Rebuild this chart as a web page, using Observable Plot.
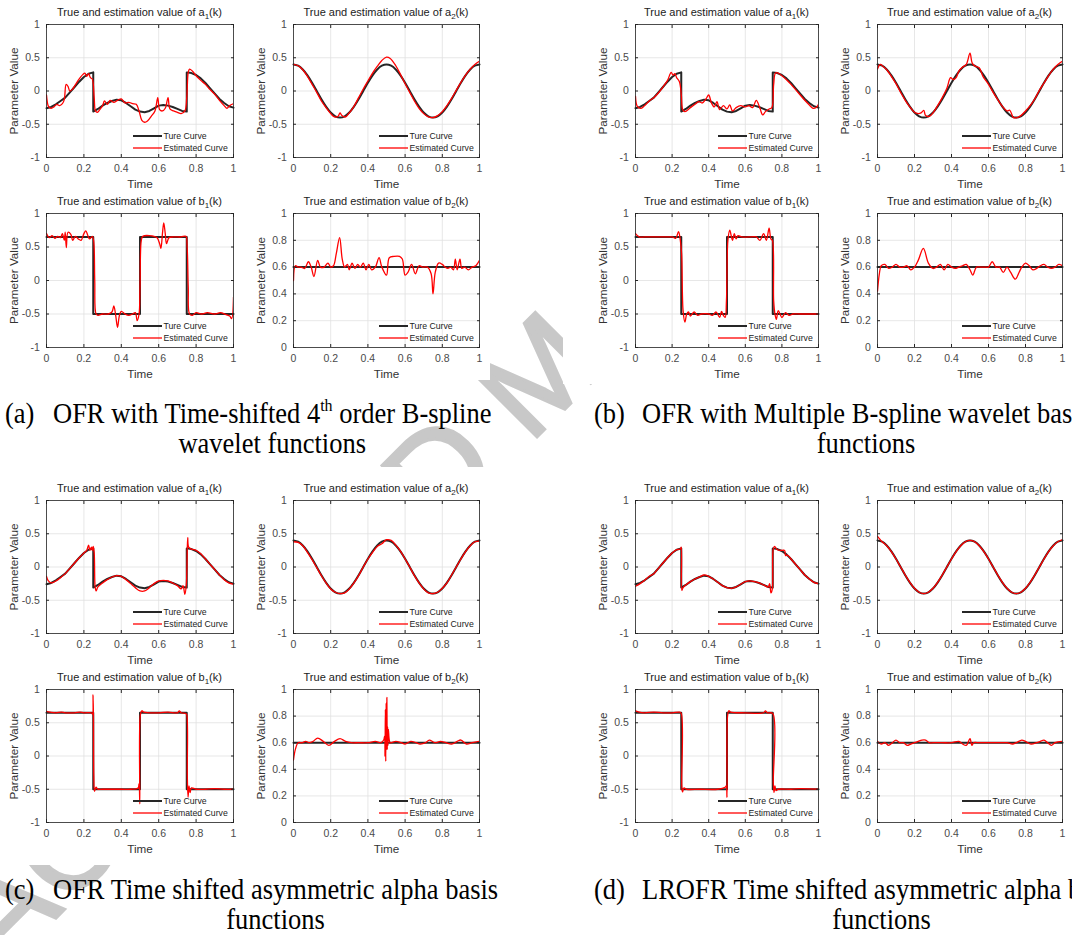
<!DOCTYPE html>
<html><head><meta charset="utf-8">
<script src="https://cdn.jsdelivr.net/npm/d3@7"></script>
<script src="https://cdn.jsdelivr.net/npm/@observablehq/plot@0.6"></script>
<style>
html,body{margin:0;padding:0;background:#fff;overflow:hidden;}
#page{position:relative;width:1072px;height:935px;overflow:hidden;background:#fff;}
.panel{position:absolute;}
.grp{position:absolute;background:#fff;}
</style></head><body><div id="page"></div>
<script>
// ---------------- DATA ----------------
const TIME_TICKS = [0, 0.2, 0.4, 0.6, 0.8, 1];
const Y_TICKS_A = [-1, -0.5, 0, 0.5, 1];
const Y_TICKS_B2 = [0, 0.2, 0.4, 0.6, 0.8, 1];
const TITLE_VARS = ["a", "a", "b", "b"];
const TITLE_SUBS = ["1", "2", "1", "2"];
const LEGEND_LABELS = ["Ture Curve", "Estimated Curve"];
const CAPTION_LABELS = ["(a)", "(b)", "(c)", "(d)"];
const CAPTION_LINE1 = [
  [["OFR with Time-shifted 4", ""], ["th", "sup"], [" order B-spline", ""]],
  [["OFR with Multiple B-spline wavelet basis", ""]],
  [["OFR Time shifted asymmetric alpha basis", ""]],
  [["LROFR Time shifted asymmetric alpha basis", ""]]
];
const CAPTION_LINE2 = ["wavelet functions", "functions", "functions", "functions"];
const WATERMARK = "ACCEPTED MANUSCRIPT";

// true curves (shared by all four methods)
const trueA1 = [[0,-0.26],[0.025,-0.24],[0.05,-0.2],[0.075,-0.15],[0.1,-0.1],[0.125,-0.02],[0.15,0.06],[0.175,0.14],[0.2,0.21],[0.225,0.26],[0.25,0.28],[0.25,-0.31],[0.275,-0.27],[0.3,-0.22],[0.325,-0.18],[0.35,-0.15],[0.375,-0.13],[0.4,-0.14],[0.425,-0.18],[0.45,-0.23],[0.475,-0.28],[0.5,-0.31],[0.525,-0.32],[0.55,-0.3],[0.575,-0.26],[0.6,-0.22],[0.625,-0.21],[0.65,-0.22],[0.675,-0.24],[0.7,-0.27],[0.725,-0.3],[0.75,-0.31],[0.75,0.28],[0.775,0.27],[0.8,0.24],[0.825,0.19],[0.85,0.12],[0.875,0.04],[0.9,-0.04],[0.925,-0.12],[0.95,-0.18],[0.975,-0.23],[1,-0.25]];
const trueA2 = [[0,0.4],[0.025,0.38],[0.05,0.324],[0.075,0.235],[0.1,0.124],[0.125,0],[0.15,-0.124],[0.175,-0.235],[0.2,-0.324],[0.225,-0.38],[0.25,-0.4],[0.275,-0.38],[0.3,-0.324],[0.325,-0.235],[0.35,-0.124],[0.375,0],[0.4,0.124],[0.425,0.235],[0.45,0.324],[0.475,0.38],[0.5,0.4],[0.525,0.38],[0.55,0.324],[0.575,0.235],[0.6,0.124],[0.625,0],[0.65,-0.124],[0.675,-0.235],[0.7,-0.324],[0.725,-0.38],[0.75,-0.4],[0.775,-0.38],[0.8,-0.324],[0.825,-0.235],[0.85,-0.124],[0.875,0],[0.9,0.124],[0.925,0.235],[0.95,0.324],[0.975,0.38],[1,0.4]];
const trueB1 = [[0,0.65],[0.25,0.65],[0.25,-0.5],[0.5,-0.5],[0.5,0.65],[0.75,0.65],[0.75,-0.5],[1,-0.5]];
const trueB2 = [[0,0.6],[1,0.6]];

// (a) OFR, time-shifted 4th order B-spline wavelets
const estA_a1 = [[0,-0.06],[0.012,-0.24],[0.025,-0.26],[0.04,-0.24],[0.055,-0.2],[0.07,-0.22],[0.085,-0.19],[0.095,-0.13],[0.105,0.1],[0.115,0.07],[0.125,0.0],[0.14,0.03],[0.16,0.12],[0.18,0.2],[0.195,0.25],[0.205,0.27],[0.215,0.22],[0.225,0.26],[0.235,0.2],[0.245,0.18],[0.255,-0.1],[0.262,-0.3],[0.272,-0.32],[0.285,-0.28],[0.3,-0.22],[0.31,-0.15],[0.325,-0.2],[0.34,-0.14],[0.36,-0.17],[0.38,-0.14],[0.4,-0.12],[0.42,-0.18],[0.44,-0.17],[0.46,-0.19],[0.48,-0.2],[0.495,-0.3],[0.51,-0.44],[0.525,-0.47],[0.54,-0.45],[0.56,-0.38],[0.58,-0.3],[0.595,-0.1],[0.605,-0.28],[0.62,-0.3],[0.635,-0.26],[0.65,-0.1],[0.66,-0.27],[0.68,-0.3],[0.7,-0.32],[0.72,-0.34],[0.74,-0.3],[0.75,-0.1],[0.758,0.28],[0.765,0.33],[0.78,0.3],[0.8,0.23],[0.825,0.16],[0.85,0.1],[0.875,0.02],[0.9,-0.05],[0.925,-0.14],[0.95,-0.22],[0.965,-0.26],[0.98,-0.22],[1,-0.19]];
const estA_a2 = [[0,0.4],[0.025,0.38],[0.05,0.32],[0.075,0.22],[0.1,0.1],[0.125,-0.02],[0.15,-0.15],[0.175,-0.25],[0.2,-0.34],[0.22,-0.39],[0.24,-0.38],[0.25,-0.33],[0.26,-0.37],[0.28,-0.39],[0.3,-0.33],[0.325,-0.23],[0.35,-0.1],[0.375,0.03],[0.4,0.15],[0.425,0.27],[0.45,0.37],[0.475,0.46],[0.5,0.51],[0.52,0.49],[0.55,0.38],[0.575,0.25],[0.6,0.11],[0.625,-0.02],[0.65,-0.15],[0.675,-0.26],[0.7,-0.34],[0.725,-0.39],[0.75,-0.4],[0.775,-0.37],[0.8,-0.31],[0.825,-0.22],[0.85,-0.11],[0.875,0.01],[0.9,0.13],[0.925,0.24],[0.95,0.33],[0.975,0.4],[1,0.45]];
const estA_b1 = [[0,0.7],[0.015,0.64],[0.03,0.67],[0.045,0.63],[0.06,0.66],[0.075,0.64],[0.085,0.7],[0.095,0.6],[0.1,0.72],[0.106,0.49],[0.115,0.72],[0.13,0.69],[0.14,0.6],[0.155,0.66],[0.17,0.62],[0.185,0.6],[0.2,0.7],[0.21,0.74],[0.22,0.68],[0.23,0.62],[0.245,0.66],[0.252,0.6],[0.258,0.0],[0.265,-0.5],[0.275,-0.52],[0.3,-0.5],[0.33,-0.5],[0.35,-0.47],[0.36,-0.38],[0.37,-0.52],[0.38,-0.7],[0.39,-0.52],[0.4,-0.46],[0.42,-0.5],[0.44,-0.52],[0.46,-0.5],[0.475,-0.48],[0.485,-0.6],[0.495,-0.5],[0.5,-0.1],[0.507,0.6],[0.515,0.66],[0.55,0.67],[0.59,0.64],[0.605,0.55],[0.612,0.48],[0.62,0.7],[0.627,0.86],[0.635,0.7],[0.642,0.55],[0.655,0.64],[0.68,0.65],[0.72,0.65],[0.745,0.66],[0.752,0.5],[0.758,-0.1],[0.765,-0.5],[0.78,-0.52],[0.8,-0.48],[0.83,-0.5],[0.86,-0.48],[0.9,-0.5],[0.93,-0.48],[0.96,-0.51],[0.98,-0.53],[0.99,-0.57],[1,-0.25]];
const estA_b2 = [[0,0.5],[0.01,0.61],[0.025,0.6],[0.04,0.6],[0.06,0.59],[0.08,0.64],[0.095,0.6],[0.11,0.53],[0.13,0.65],[0.145,0.6],[0.165,0.6],[0.185,0.63],[0.2,0.6],[0.215,0.61],[0.23,0.7],[0.248,0.82],[0.262,0.66],[0.275,0.6],[0.29,0.62],[0.3,0.58],[0.315,0.63],[0.33,0.59],[0.345,0.62],[0.36,0.6],[0.375,0.63],[0.39,0.58],[0.405,0.62],[0.42,0.58],[0.44,0.6],[0.46,0.67],[0.475,0.6],[0.5,0.54],[0.515,0.67],[0.54,0.68],[0.57,0.68],[0.585,0.66],[0.6,0.54],[0.615,0.56],[0.635,0.62],[0.655,0.55],[0.675,0.61],[0.695,0.6],[0.72,0.6],[0.74,0.55],[0.75,0.4],[0.762,0.56],[0.78,0.63],[0.8,0.62],[0.815,0.6],[0.83,0.59],[0.845,0.6],[0.86,0.58],[0.87,0.66],[0.88,0.58],[0.895,0.66],[0.905,0.59],[0.92,0.6],[0.94,0.58],[0.96,0.6],[0.98,0.61],[1,0.65]];

// (b) OFR, multiple B-spline wavelets
const estB_a1 = [[0,-0.08],[0.01,-0.23],[0.03,-0.26],[0.05,-0.22],[0.075,-0.15],[0.1,-0.1],[0.125,-0.03],[0.15,0.06],[0.175,0.16],[0.195,0.28],[0.205,0.24],[0.215,0.26],[0.225,0.2],[0.24,0.14],[0.25,-0.05],[0.258,-0.28],[0.27,-0.31],[0.3,-0.25],[0.325,-0.2],[0.345,-0.16],[0.365,-0.18],[0.385,-0.12],[0.4,-0.06],[0.415,-0.18],[0.43,-0.24],[0.445,-0.16],[0.46,-0.28],[0.48,-0.22],[0.5,-0.27],[0.515,-0.21],[0.53,-0.3],[0.55,-0.25],[0.575,-0.22],[0.6,-0.24],[0.62,-0.22],[0.64,-0.25],[0.66,-0.14],[0.68,-0.26],[0.695,-0.36],[0.71,-0.31],[0.73,-0.27],[0.745,-0.25],[0.755,0.1],[0.765,0.27],[0.78,0.27],[0.8,0.23],[0.825,0.17],[0.85,0.1],[0.875,0.02],[0.9,-0.06],[0.925,-0.14],[0.95,-0.21],[0.97,-0.26],[0.99,-0.24],[1,-0.2]];
const estB_a2 = [[0,0.33],[0.015,0.4],[0.03,0.37],[0.05,0.32],[0.075,0.22],[0.1,0.11],[0.125,-0.02],[0.15,-0.14],[0.175,-0.24],[0.2,-0.32],[0.22,-0.34],[0.235,-0.33],[0.25,-0.29],[0.26,-0.37],[0.28,-0.38],[0.3,-0.33],[0.325,-0.22],[0.35,-0.1],[0.375,0.04],[0.395,0.2],[0.41,0.17],[0.425,0.2],[0.44,0.3],[0.46,0.36],[0.48,0.4],[0.5,0.57],[0.512,0.42],[0.53,0.37],[0.55,0.35],[0.57,0.22],[0.6,0.1],[0.625,-0.02],[0.65,-0.13],[0.675,-0.23],[0.7,-0.3],[0.715,-0.29],[0.735,-0.4],[0.755,-0.4],[0.775,-0.37],[0.8,-0.3],[0.825,-0.22],[0.85,-0.12],[0.875,0.01],[0.9,0.12],[0.925,0.23],[0.95,0.33],[0.975,0.4],[1,0.45]];
const estB_b1 = [[0,0.7],[0.02,0.65],[0.05,0.65],[0.1,0.65],[0.15,0.65],[0.2,0.65],[0.22,0.63],[0.235,0.73],[0.245,0.6],[0.252,0.4],[0.26,-0.45],[0.27,-0.62],[0.28,-0.5],[0.29,-0.47],[0.3,-0.53],[0.32,-0.47],[0.34,-0.52],[0.36,-0.5],[0.4,-0.5],[0.42,-0.52],[0.44,-0.47],[0.46,-0.55],[0.47,-0.46],[0.48,-0.52],[0.49,-0.55],[0.497,-0.3],[0.505,0.6],[0.515,0.75],[0.53,0.6],[0.54,0.7],[0.55,0.62],[0.56,0.67],[0.58,0.65],[0.62,0.65],[0.66,0.65],[0.68,0.6],[0.7,0.7],[0.715,0.6],[0.73,0.78],[0.74,0.62],[0.748,0.6],[0.755,-0.3],[0.762,-0.5],[0.77,-0.58],[0.78,-0.45],[0.8,-0.55],[0.82,-0.48],[0.84,-0.52],[0.86,-0.5],[0.9,-0.5],[0.95,-0.5],[1,-0.5]];
const estB_b2 = [[0,0.42],[0.01,0.55],[0.02,0.61],[0.04,0.62],[0.06,0.59],[0.08,0.6],[0.1,0.62],[0.12,0.6],[0.14,0.6],[0.16,0.61],[0.18,0.58],[0.2,0.6],[0.22,0.65],[0.248,0.74],[0.275,0.63],[0.3,0.59],[0.32,0.6],[0.34,0.62],[0.36,0.58],[0.38,0.62],[0.4,0.6],[0.42,0.59],[0.44,0.6],[0.46,0.61],[0.48,0.62],[0.5,0.58],[0.515,0.54],[0.535,0.6],[0.56,0.6],[0.58,0.6],[0.6,0.6],[0.62,0.64],[0.64,0.6],[0.66,0.6],[0.68,0.56],[0.7,0.6],[0.72,0.56],[0.745,0.51],[0.765,0.56],[0.78,0.6],[0.8,0.63],[0.82,0.61],[0.84,0.58],[0.86,0.59],[0.88,0.61],[0.9,0.62],[0.92,0.6],[0.94,0.59],[0.96,0.6],[0.98,0.62],[1,0.61]];

// (c) OFR, time-shifted asymmetric alpha basis
const estC_a1 = [[0,-0.14],[0.01,-0.21],[0.025,-0.24],[0.05,-0.21],[0.075,-0.16],[0.1,-0.1],[0.125,-0.02],[0.15,0.06],[0.175,0.14],[0.2,0.21],[0.215,0.25],[0.225,0.33],[0.232,0.25],[0.24,0.3],[0.245,0.25],[0.25,0.31],[0.255,0.22],[0.26,-0.3],[0.265,-0.36],[0.275,-0.3],[0.3,-0.24],[0.325,-0.19],[0.35,-0.15],[0.375,-0.13],[0.4,-0.14],[0.425,-0.19],[0.45,-0.25],[0.475,-0.31],[0.5,-0.36],[0.525,-0.36],[0.55,-0.31],[0.575,-0.25],[0.6,-0.21],[0.625,-0.2],[0.65,-0.21],[0.675,-0.24],[0.7,-0.28],[0.72,-0.33],[0.73,-0.28],[0.74,-0.41],[0.748,-0.25],[0.755,0.44],[0.76,0.3],[0.775,0.27],[0.8,0.25],[0.825,0.2],[0.85,0.12],[0.875,0.04],[0.9,-0.04],[0.925,-0.12],[0.95,-0.19],[0.975,-0.24],[1,-0.26]];
const estC_a2 = [[0,0.38],[0.025,0.37],[0.05,0.32],[0.075,0.22],[0.1,0.11],[0.125,-0.01],[0.15,-0.13],[0.175,-0.24],[0.2,-0.33],[0.225,-0.38],[0.25,-0.4],[0.275,-0.39],[0.3,-0.33],[0.325,-0.24],[0.35,-0.13],[0.375,0.0],[0.4,0.12],[0.425,0.22],[0.45,0.31],[0.475,0.35],[0.5,0.41],[0.525,0.4],[0.55,0.33],[0.575,0.24],[0.6,0.12],[0.625,0.0],[0.65,-0.13],[0.675,-0.24],[0.7,-0.33],[0.725,-0.39],[0.75,-0.4],[0.775,-0.38],[0.8,-0.32],[0.825,-0.24],[0.85,-0.12],[0.875,0.0],[0.9,0.12],[0.925,0.23],[0.95,0.32],[0.975,0.38],[1,0.39]];
const estC_b1 = [[0,0.67],[0.02,0.66],[0.05,0.65],[0.08,0.66],[0.1,0.65],[0.15,0.65],[0.18,0.66],[0.2,0.65],[0.24,0.65],[0.246,0.63],[0.249,0.92],[0.251,0.55],[0.253,-0.3],[0.257,-0.53],[0.265,-0.47],[0.275,-0.5],[0.3,-0.5],[0.35,-0.5],[0.4,-0.5],[0.45,-0.5],[0.49,-0.48],[0.495,-0.42],[0.499,-0.72],[0.502,0.62],[0.51,0.68],[0.52,0.66],[0.6,0.65],[0.65,0.66],[0.7,0.65],[0.71,0.68],[0.72,0.65],[0.745,0.64],[0.75,0.62],[0.753,-0.3],[0.757,-0.62],[0.762,-0.45],[0.768,-0.55],[0.775,-0.48],[0.8,-0.5],[0.85,-0.5],[0.9,-0.49],[0.95,-0.5],[1,-0.5]];
const estC_b2 = [[0,0.47],[0.01,0.55],[0.025,0.6],[0.045,0.6],[0.065,0.61],[0.085,0.6],[0.105,0.61],[0.13,0.635],[0.16,0.61],[0.19,0.58],[0.22,0.61],[0.25,0.63],[0.28,0.61],[0.31,0.6],[0.35,0.6],[0.4,0.6],[0.44,0.61],[0.47,0.6],[0.485,0.62],[0.49,0.65],[0.492,0.5],[0.494,0.85],[0.496,0.46],[0.498,0.9],[0.5,0.55],[0.502,0.94],[0.504,0.55],[0.506,0.72],[0.508,0.58],[0.51,0.7],[0.515,0.62],[0.52,0.6],[0.55,0.61],[0.58,0.6],[0.6,0.59],[0.63,0.61],[0.66,0.6],[0.68,0.59],[0.71,0.6],[0.73,0.62],[0.76,0.6],[0.79,0.61],[0.82,0.6],[0.85,0.59],[0.88,0.61],[0.9,0.62],[0.93,0.59],[0.96,0.6],[1,0.61]];

// (d) LROFR, time-shifted asymmetric alpha basis
const estD_a1 = [[0,-0.29],[0.025,-0.25],[0.05,-0.2],[0.075,-0.14],[0.1,-0.1],[0.125,-0.02],[0.15,0.06],[0.175,0.14],[0.2,0.21],[0.225,0.26],[0.245,0.27],[0.25,0.3],[0.253,-0.35],[0.26,-0.31],[0.275,-0.27],[0.3,-0.22],[0.325,-0.18],[0.35,-0.15],[0.375,-0.12],[0.4,-0.14],[0.425,-0.18],[0.45,-0.23],[0.475,-0.28],[0.5,-0.31],[0.525,-0.32],[0.55,-0.3],[0.575,-0.26],[0.6,-0.22],[0.625,-0.21],[0.65,-0.22],[0.675,-0.24],[0.7,-0.27],[0.725,-0.3],[0.733,-0.25],[0.74,-0.39],[0.748,-0.32],[0.752,0.26],[0.76,0.31],[0.775,0.26],[0.8,0.25],[0.815,0.25],[0.82,0.17],[0.83,0.18],[0.85,0.12],[0.875,0.04],[0.9,-0.04],[0.925,-0.12],[0.95,-0.18],[0.975,-0.23],[1,-0.25]];
const estD_a2 = [[0,0.46],[0.015,0.41],[0.025,0.38],[0.05,0.32],[0.075,0.23],[0.1,0.12],[0.125,0.0],[0.15,-0.12],[0.175,-0.23],[0.2,-0.32],[0.225,-0.38],[0.25,-0.4],[0.275,-0.38],[0.3,-0.32],[0.325,-0.23],[0.35,-0.12],[0.375,0.0],[0.4,0.12],[0.425,0.23],[0.45,0.32],[0.475,0.38],[0.5,0.4],[0.525,0.38],[0.55,0.32],[0.575,0.23],[0.6,0.12],[0.625,0.0],[0.65,-0.12],[0.675,-0.23],[0.7,-0.32],[0.725,-0.38],[0.75,-0.4],[0.775,-0.38],[0.8,-0.32],[0.825,-0.23],[0.85,-0.12],[0.875,0.0],[0.9,0.12],[0.925,0.23],[0.95,0.32],[0.975,0.38],[1,0.41]];
const estD_b1 = [[0,0.68],[0.02,0.66],[0.05,0.65],[0.1,0.66],[0.15,0.65],[0.2,0.65],[0.24,0.66],[0.25,0.64],[0.253,-0.45],[0.257,-0.54],[0.265,-0.48],[0.28,-0.5],[0.35,-0.5],[0.45,-0.5],[0.49,-0.47],[0.496,-0.45],[0.5,-0.62],[0.503,0.6],[0.51,0.68],[0.52,0.66],[0.6,0.65],[0.7,0.65],[0.71,0.68],[0.72,0.65],[0.75,0.64],[0.753,-0.4],[0.757,-0.55],[0.762,-0.45],[0.768,-0.52],[0.78,-0.5],[0.85,-0.5],[0.9,-0.49],[1,-0.5]];
const estD_b2 = [[0,0.61],[0.02,0.59],[0.04,0.6],[0.06,0.58],[0.08,0.6],[0.1,0.62],[0.12,0.6],[0.14,0.6],[0.16,0.58],[0.18,0.59],[0.2,0.6],[0.22,0.61],[0.24,0.62],[0.26,0.62],[0.28,0.6],[0.3,0.6],[0.35,0.6],[0.4,0.6],[0.44,0.61],[0.46,0.59],[0.48,0.58],[0.5,0.63],[0.51,0.58],[0.52,0.6],[0.55,0.6],[0.6,0.6],[0.65,0.6],[0.7,0.6],[0.73,0.59],[0.75,0.6],[0.78,0.62],[0.8,0.61],[0.83,0.59],[0.86,0.6],[0.88,0.61],[0.9,0.62],[0.92,0.6],[0.94,0.58],[0.96,0.6],[1,0.61]];

// ---------------- LAYOUT / STYLE ----------------
const FONT = "'Liberation Sans', Arial, Helvetica, sans-serif";
const SERIF = "'Liberation Serif', 'Times New Roman', serif";
const TRUE_COLOR = "#262626", EST_COLOR = "#ff0000", GRID = "#e1e1e1";
const COLS = {a: [[46, 187], [293, 186]], b: [[635, 183], [877, 185]], c: [[46, 187], [293, 186]], d: [[635, 183], [877, 185]]};
const ROWS = {a: [[24, 133], [213, 134]], b: [[24, 133], [213, 134]], c: [[500, 133], [689, 133]], d: [[500, 133], [689, 133]]};
const GROUP_BOXES = {a: [0, 0, 490, 380], b: [563, 0, 509, 384], c: [0, 467, 490, 398], d: [563, 467, 509, 398]};
const CAPTION_POS = [[5, 53, 423, 453], [594, 642, 423, 453], [5, 53, 899, 929], [594, 642, 899, 929]];

const TRUES = [trueA1, trueA2, trueB1, trueB2];
const TRUE_CURVES = ["linear", "catmull-rom", "linear", "linear"];
const ESTS = {a: [estA_a1, estA_a2, estA_b1, estA_b2], b: [estB_a1, estB_a2, estB_b1, estB_b2],
              c: [estC_a1, estC_a2, estC_b1, estC_b2], d: [estD_a1, estD_a2, estD_b1, estD_b2]};

const page = document.getElementById("page");
const fmt = d => String(d);

// watermark (behind the figure images)
const wm = d3.select(page).append("svg").attr("width", 1072).attr("height", 935)
  .style("position", "absolute").style("left", 0).style("top", 0);
wm.append("text").attr("transform", "translate(3.5,970.5) rotate(-45)")
  .attr("font-family", FONT).attr("font-size", 130).attr("fill", "#c8c8c8")
  .attr("stroke", "#c8c8c8").attr("stroke-width", 3).text(WATERMARK);

// white figure-image rectangles
for (const g of ["a", "b", "c", "d"]) {
  const [x, y, w, h] = GROUP_BOXES[g];
  const r = document.createElement("div");
  r.className = "grp";
  Object.assign(r.style, {left: x + "px", top: y + "px", width: w + "px", height: h + "px"});
  page.appendChild(r);
}

function panel(group, row, col) {
  const param = row * 2 + col;
  const [px, w] = COLS[group][col];
  const [py, h] = ROWS[group][row];
  const ML = 50, MR = 12, MT = 26, MB = 40;
  const W = w + ML + MR, H = h + MT + MB;
  const isB2 = param === 3;
  const yT = isB2 ? Y_TICKS_B2 : Y_TICKS_A;
  const fig = Plot.plot({
    width: W, height: H,
    marginLeft: ML, marginRight: MR, marginTop: MT, marginBottom: MB,
    style: {fontFamily: FONT, fontSize: "10.5px", color: "#4a4a4a", background: "transparent", overflow: "visible"},
    x: {domain: [0, 1]},
    y: {domain: isB2 ? [0, 1] : [-1, 1]},
    marks: [
      Plot.gridX(TIME_TICKS, {stroke: GRID, strokeOpacity: 1, strokeWidth: 0.8}),
      Plot.gridY(yT, {stroke: GRID, strokeOpacity: 1, strokeWidth: 0.8}),
      Plot.line(TRUES[param], {x: d => d[0], y: d => d[1], stroke: TRUE_COLOR, strokeWidth: 2, curve: TRUE_CURVES[param]}),
      Plot.line(ESTS[group][param], {x: d => d[0], y: d => d[1], stroke: EST_COLOR, strokeWidth: 1.3, curve: "catmull-rom", clip: true}),
      Plot.frame({stroke: "#262626", strokeWidth: 0.8}),
      Plot.axisX(TIME_TICKS, {tickSize: -3, tickPadding: 9.6, tickFormat: fmt, label: null, stroke: "#262626"}),
      Plot.axisX(TIME_TICKS, {anchor: "top", tickSize: -3, tickFormat: () => "", label: null, stroke: "#262626"}),
      Plot.axisY(yT, {tickSize: -3, tickPadding: 9.7, tickFormat: fmt, label: null, stroke: "#262626"}),
      Plot.axisY(yT, {anchor: "right", tickSize: -3, tickFormat: () => "", label: null, stroke: "#262626"}),
      Plot.text(["Time"], {text: d => d, frameAnchor: "bottom", dy: 27, fontSize: 11.7, lineAnchor: "middle", textAnchor: "middle", fill: "#333"}),
      Plot.text(["Parameter Value"], {text: d => d, frameAnchor: "left", dx: -32, rotate: -90, fontSize: 11.7, textAnchor: "middle", lineAnchor: "middle", fill: "#333"})
    ]
  });
  const div = document.createElement("div");
  div.className = "panel";
  Object.assign(div.style, {left: (px - ML) + "px", top: (py - MT) + "px", width: W + "px", height: H + "px"});
  fig.style.maxWidth = "none";
  div.appendChild(fig);
  page.appendChild(div);

  const s = d3.select(fig);
  const t = s.append("text").attr("x", ML + w / 2).attr("y", MT - 8).attr("text-anchor", "middle")
    .attr("font-size", 11).attr("fill", "#222").attr("font-family", FONT);
  t.append("tspan").text("True and estimation value of " + TITLE_VARS[param]);
  t.append("tspan").attr("font-size", 8).attr("dy", 3).text(TITLE_SUBS[param]);
  t.append("tspan").attr("dy", -3).text("(k)");

  const lx1 = ML + w - 100, lx2 = ML + w - 71, tx = ML + w - 69.5;
  const items = [[MT + h - 21, TRUE_COLOR, 2], [MT + h - 9, EST_COLOR, 1.3]];
  items.forEach(([yy, c, sw], i) => {
    s.append("line").attr("x1", lx1).attr("x2", lx2).attr("y1", yy).attr("y2", yy).attr("stroke", c).attr("stroke-width", sw);
    s.append("text").attr("x", tx).attr("y", yy).attr("dy", "0.35em").attr("font-size", 8.7)
      .attr("text-anchor", "start").attr("font-family", FONT).attr("fill", "#222").text(LEGEND_LABELS[i]);
  });
}

for (const g of ["a", "b", "c", "d"]) for (let r = 0; r < 2; r++) for (let c = 0; c < 2; c++) panel(g, r, c);

// captions
const cap = d3.select(page).append("svg").attr("width", 1072).attr("height", 935)
  .style("position", "absolute").style("left", 0).style("top", 0).style("pointer-events", "none");
CAPTION_LABELS.forEach((lab, i) => {
  const [lx, tx, b1, b2] = CAPTION_POS[i];
  const base = (sel, anchor) => sel.attr("font-family", SERIF).attr("font-size", 26.5).attr("fill", "#000")
    .attr("text-anchor", anchor).style("white-space", "pre");
  base(cap.append("text").attr("transform", `translate(${lx},${b1}) scale(1,1.1)`), "start").text(lab);
  const t1 = base(cap.append("text").attr("transform", `translate(${tx},${b1}) scale(1,1.1)`), "start");
  let up = false;
  CAPTION_LINE1[i].forEach(([str, kind]) => {
    const sp = t1.append("tspan").text(str);
    if (kind === "sup") { sp.attr("font-size", 16).attr("dy", -11); up = true; }
    else if (up) { sp.attr("dy", 11); up = false; }
  });
  const L = t1.node().getComputedTextLength();
  base(cap.append("text").attr("transform", `translate(${tx + L / 2},${b2}) scale(1,1.1)`), "middle").text(CAPTION_LINE2[i]);
});
</script></body></html>
